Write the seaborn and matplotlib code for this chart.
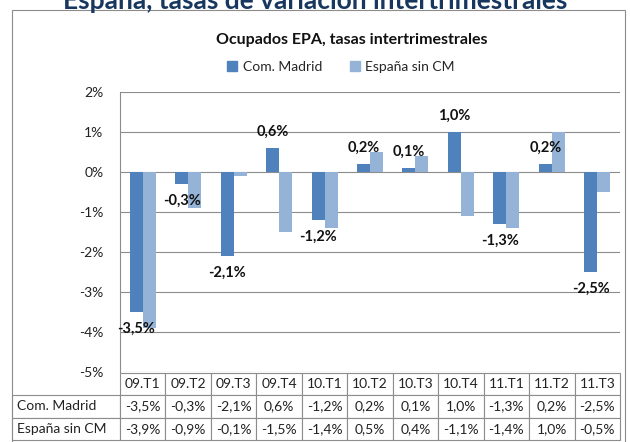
import numpy as np
import pandas as pd
import seaborn as sns
import matplotlib.pyplot as plt

# data
trimestres = ['09.T1', '09.T2', '09.T3', '09.T4', '10.T1', '10.T2',
              '10.T3', '10.T4', '11.T1', '11.T2', '11.T3']
madrid = [-3.5, -0.3, -2.1, 0.6, -1.2, 0.2, 0.1, 1.0, -1.3, 0.2, -2.5]
espana = [-3.9, -0.9, -0.1, -1.5, -1.4, 0.5, 0.4, -1.1, -1.4, 1.0, -0.5]
series = ['Com. Madrid', 'España sin CM']
y_ticks = [2, 1, 0, -1, -2, -3, -4, -5]

colors = ['#4F81BD', '#95B3D7']

def fmt(v):
    return f'{v:.1f}%'.replace('.', ',')

df = pd.DataFrame({
    'trimestre': trimestres * 2,
    'serie': [series[0]] * len(madrid) + [series[1]] * len(espana),
    'valor': madrid + espana,
})

sns.set_style('white')
plt.rcParams['font.family'] = ['Lato', 'DejaVu Sans']

W, H = 630, 442
fig = plt.figure(figsize=(W / 100, H / 100), dpi=100)
# plot area: x 120..620 px, y 92..372 px
ax = fig.add_axes([120 / W, 1 - 372 / H, 500 / W, 280 / H])

sns.barplot(data=df, x='trimestre', y='valor', hue='serie', order=trimestres,
            hue_order=series, palette=colors, width=0.572, linewidth=0,
            saturation=1, ax=ax, legend=False)

ax.set_ylim(-5, 2)
ax.set_xlim(-0.5, len(trimestres) - 0.5)
ax.set_yticks(y_ticks)
ax.set_yticklabels([f'{t}%' for t in y_ticks], fontsize=10, color='#222222')
ax.tick_params(axis='y', length=3, width=0.8, color='#888888', pad=9)
ax.set_xticks([])
ax.set_xlabel('')
ax.set_ylabel('')
ax.grid(axis='y', color='#8c8c8c', linewidth=0.8)
ax.set_axisbelow(True)
for side in ['top', 'right', 'bottom']:
    ax.spines[side].set_visible(False)
ax.spines['left'].set_color('#8c8c8c')
ax.spines['left'].set_linewidth(0.8)

# data labels for Com. Madrid
for bar, v in zip(ax.containers[0], madrid):
    cx = bar.get_x() + bar.get_width() / 2
    off = 12 if v >= 0 else -12
    ax.annotate(fmt(v), (cx, v), xytext=(0, off), textcoords='offset points',
                ha='center', va='center', fontsize=10.5, fontweight='bold',
                color='#111111')

# data table under the chart
cell_text = [[series[0]] + [fmt(v) for v in madrid],
             [series[1]] + [fmt(v) for v in espana]]
col_w = [108 / 608] + [500 / 11 / 608] * 11
tab = ax.table(cellText=cell_text, colLabels=[''] + trimestres,
               colWidths=col_w, cellLoc='center',
               bbox=[-108 / 500, -(440 - 372) / 280, 608 / 500, (440 - 373) / 280])
tab.auto_set_font_size(False)
tab.set_fontsize(10)
for (r, c), cell in tab.get_celld().items():
    cell.set_edgecolor('#8c8c8c')
    cell.set_linewidth(0.8)
    cell.get_text().set_color('#222222')
    if c == 0:
        cell.get_text().set_ha('left')
        cell.PAD = 0.05
    if r == 0 and c == 0:
        cell.visible_edges = ''

# titles and legend
fig.text(0.5, 1 - 9 / H, 'España, tasas de variación intertrimestrales',
         ha='center', va='baseline', fontsize=19, fontweight='bold',
         color='#17375E')
fig.text(352 / W, 1 - 40 / H, 'Ocupados EPA, tasas intertrimestrales',
         ha='center', va='center', fontsize=11.5, fontweight='bold',
         color='#111111')
handles = [plt.Rectangle((0, 0), 1, 1, color=c) for c in colors]
fig.legend(handles, series, loc='center', bbox_to_anchor=(341 / W, 1 - 67 / H),
           ncol=2, frameon=False, fontsize=10, handlelength=0.7,
           handleheight=0.7, handletextpad=0.4, columnspacing=2.0)

# outer chart border
fig.add_artist(plt.Rectangle((12 / W, -0.05), 613 / W, 1.05 - 10 / H,
                             transform=fig.transFigure, fill=False,
                             edgecolor='#8c8c8c', linewidth=0.8))

fig.savefig('out.png', dpi=100)
